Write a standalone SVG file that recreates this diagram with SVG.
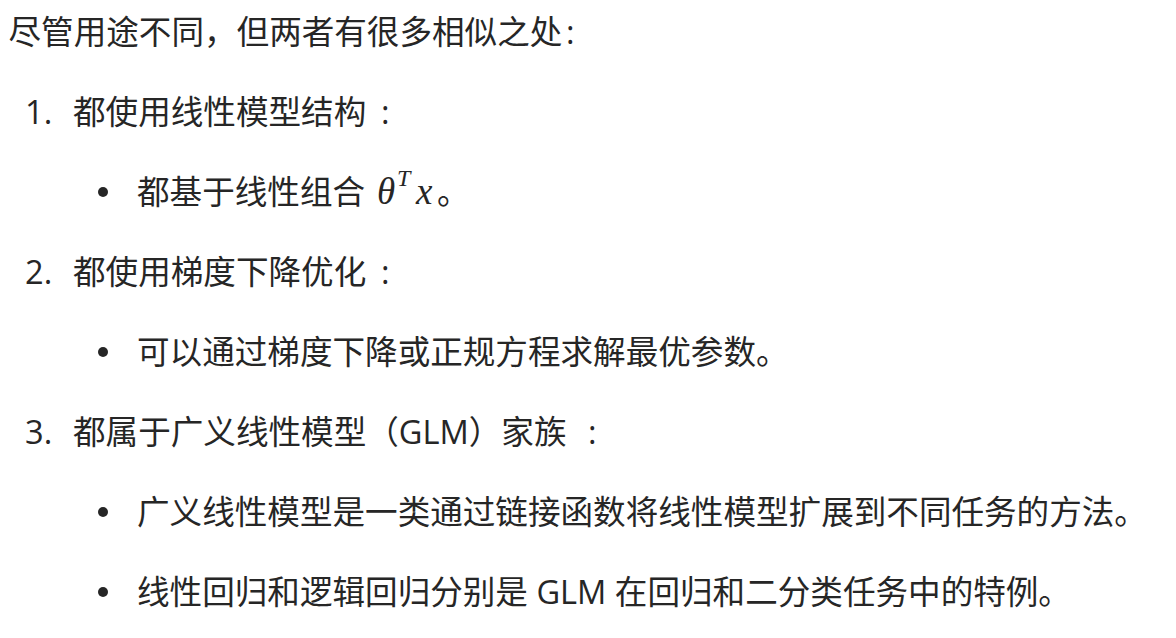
<svg xmlns="http://www.w3.org/2000/svg" width="1176" height="638" viewBox="0 0 1176 638">
<style>
  .t { font-family: "Open Sans", "Noto Sans CJK SC", sans-serif; font-size: 32.6px; fill: #262626; }
  .m { font-family: "Liberation Serif", "DejaVu Serif", serif; font-style: italic; fill: #262626; }
  .dot { fill: #262626; }
</style>
<rect width="1176" height="638" fill="#ffffff"/>
<g id="intro">
  <text class="t" x="8.5" y="43.5">尽管用途不同，但两者有很多相似之处</text>
  <text class="t" x="566" y="43.5">:</text>
</g>
<g id="item1">
  <text class="t" x="25" y="123.5">1.</text>
  <text class="t" x="73" y="123.5">都使用线性模型结构</text>
  <text class="t" x="381" y="123.5">:</text>
</g>
<g id="item1-bullet">
  <circle class="dot" cx="103" cy="192" r="5"/>
  <text class="t" x="137" y="204">都基于线性组合</text>
  <text class="m" x="377" y="204" font-size="37">θ</text>
  <text class="m" x="397" y="186" font-size="24">T</text>
  <text class="m" x="416" y="204" font-size="37">x</text>
  <text class="t" x="437" y="204">。</text>
</g>
<g id="item2">
  <text class="t" x="25" y="284">2.</text>
  <text class="t" x="73" y="284">都使用梯度下降优化</text>
  <text class="t" x="381" y="284">:</text>
</g>
<g id="item2-bullet">
  <circle class="dot" cx="103" cy="352" r="5"/>
  <text class="t" x="137" y="364">可以通过梯度下降或正规方程求解最优参数。</text>
</g>
<g id="item3">
  <text class="t" x="25" y="444">3.</text>
  <text class="t" x="73" y="444">都属于广义线性模型（GLM）家族</text>
  <text class="t" x="588" y="444">:</text>
</g>
<g id="item3-bullet1">
  <circle class="dot" cx="103" cy="512" r="5"/>
  <text class="t" x="137" y="524">广义线性模型是一类通过链接函数将线性模型扩展到不同任务的方法。</text>
</g>
<g id="item3-bullet2">
  <circle class="dot" cx="103" cy="592" r="5"/>
  <text class="t" x="137" y="604">线性回归和逻辑回归分别是 GLM 在回归和二分类任务中的特例。</text>
</g>
<g id="connectors"></g>
</svg>
